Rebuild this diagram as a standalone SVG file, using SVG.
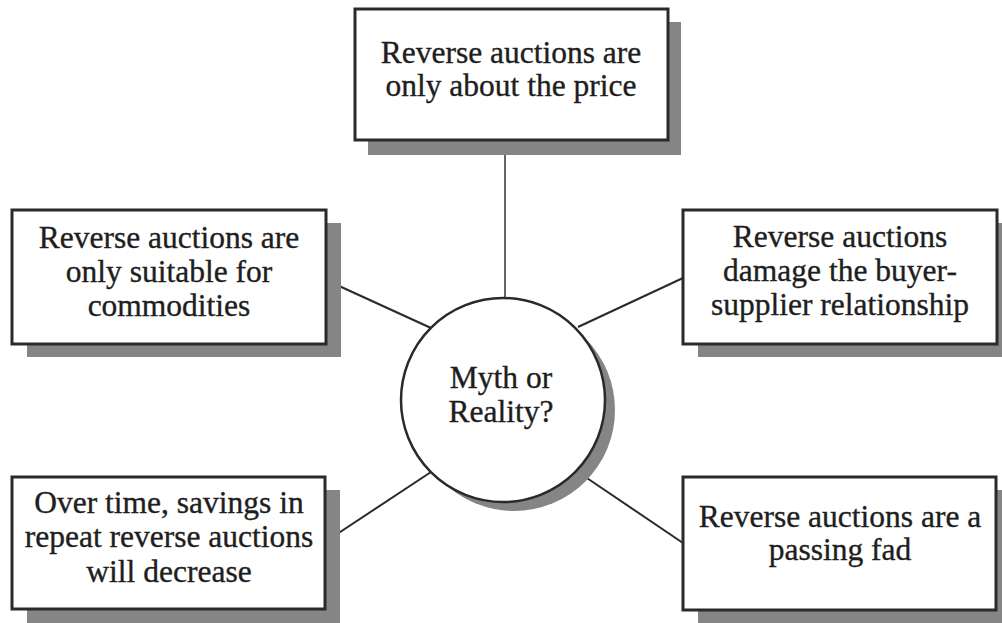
<svg xmlns="http://www.w3.org/2000/svg" width="1002" height="623" viewBox="0 0 1002 623">
<style>
.shadow{fill:#858585;stroke:none}
.box{fill:#fff;stroke:#2a2a2a;stroke-width:3}
.lbl{font-size:31.5px;fill:#1e1e1e;stroke:#1e1e1e;stroke-width:0.35;text-anchor:middle}
.conn{stroke:#2a2a2a;stroke-width:2;fill:none}
</style>
<rect width="1002" height="623" fill="#fff"/>
<g id="connectors">
<line class="conn" x1="505" y1="140" x2="505" y2="300" style="stroke:#666"/>
<line class="conn" x1="326" y1="280" x2="431" y2="328"/>
<line class="conn" x1="578" y1="327" x2="683" y2="278"/>
<line class="conn" x1="325" y1="542" x2="431" y2="472"/>
<line class="conn" x1="578" y1="472" x2="683" y2="543"/>
</g>
<g font-family="Liberation Serif, Times New Roman, DejaVu Serif, serif">
<g id="node-top">
<rect class="shadow" x="368" y="22" width="313" height="133"/>
<rect class="box" x="355" y="9" width="313" height="131"/>
<text class="lbl" x="511" y="63">Reverse auctions are</text>
<text class="lbl" x="511" y="96">only about the price</text>
</g>
<g id="node-left">
<rect class="shadow" x="27" y="223" width="314" height="134"/>
<rect class="box" x="12" y="210" width="314" height="134"/>
<text class="lbl" x="169" y="248">Reverse auctions are</text>
<text class="lbl" x="169" y="282">only suitable for</text>
<text class="lbl" x="169" y="316">commodities</text>
</g>
<g id="node-right">
<rect class="shadow" x="698" y="223" width="314" height="134"/>
<rect class="box" x="683" y="210" width="314" height="134"/>
<text class="lbl" x="840" y="247">Reverse auctions</text>
<text class="lbl" x="840" y="281">damage the buyer-</text>
<text class="lbl" x="840" y="315">supplier relationship</text>
</g>
<g id="node-bottom-left">
<rect class="shadow" x="27" y="490" width="313" height="135"/>
<rect class="box" x="12" y="477" width="313" height="132"/>
<text class="lbl" x="169" y="513">Over time, savings in</text>
<text class="lbl" x="169" y="547">repeat reverse auctions</text>
<text class="lbl" x="169" y="582">will decrease</text>
</g>
<g id="node-bottom-right">
<rect class="shadow" x="698" y="490" width="313" height="135"/>
<rect class="box" x="683" y="477" width="313" height="133"/>
<text class="lbl" x="840" y="527">Reverse auctions are a</text>
<text class="lbl" x="840" y="560">passing fad</text>
</g>
<g id="node-center">
<circle class="shadow" cx="514" cy="410" r="101"/>
<circle cx="503" cy="400" r="102" fill="#fff" stroke="#2a2a2a" stroke-width="2.5"/>
<text class="lbl" x="501" y="388">Myth or</text>
<text class="lbl" x="501" y="422">Reality?</text>
</g>
</g>
</svg>
